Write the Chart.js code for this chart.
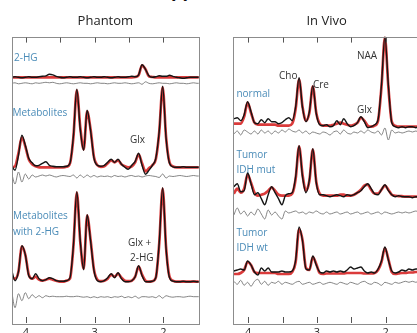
<!DOCTYPE html>
<html>
<head>
<meta charset="utf-8">
<script src="https://cdn.jsdelivr.net/npm/chart.js@4"></script>
<style>
  html, body { margin: 0; padding: 0; background: #fff; }
  body { width: 417px; height: 333px; overflow: hidden; position: relative; }
  canvas { position: absolute; top: 0; }
  #cut { position: absolute; left: 171px; top: -19px; font: bold 18px "Open Sans"; line-height: 18px; color: #111; }
</style>
</head>
<body>
<div id="cut">pp</div>
<canvas id="phantom" width="210" height="345" style="left:0px"></canvas>
<canvas id="invivo" width="210" height="345" style="left:221px"></canvas>
<script>
// chemical shift grid (ppm), shared by every spectrum
const ppm = [4.21, 4.16, 4.11, 4.06, 4.01, 3.96, 3.91, 3.86, 3.81, 3.76,
             3.71, 3.66, 3.61, 3.56, 3.51, 3.46, 3.41, 3.36, 3.31, 3.26,
             3.21, 3.16, 3.11, 3.06, 3.01, 2.96, 2.91, 2.86, 2.81, 2.76,
             2.71, 2.66, 2.61, 2.56, 2.51, 2.46, 2.41, 2.36, 2.31, 2.26,
             2.21, 2.16, 2.11, 2.06, 2.01, 1.96, 1.91, 1.86, 1.81, 1.76,
             1.71, 1.66, 1.61, 1.56, 1.51, 1.46];
const tickPpm = [4, 3.5, 3, 2.5, 2];
const tickLabels = ["4", "3", "2"];

// Phantom: 2-HG
const hgData = [0, 0.5, 0, -0.5, 0, 0.5, 0, 0, 0.5, 1,
                1.5, 3, 2.5, 1, 0, -0.5, 0, 0.5, 0, 0,
                0.5, 0, -0.5, 0, 0.5, 0, 0, 0.5, 0, -0.5,
                0, 0.5, 0, 0, 0.5, 1, 0.5, 2.5, 12.5, 8,
                1.5, 0, 0.5, 1.5, 1, 1, 2, 1, 0, -0.5,
                -1, -0.5, 0, 0, 0, 0];
const hgFit = [0, 0, 0, 0, 0, 0, 0, 0, 0, 0,
               0, 0, 0, 0, 0, 0, 0, 0, 0, 0,
               0, 0, 0, 0, 0, 0, 0, 0, 0, 0,
               0, 0, 0, 0, 0, 0, 0.3, 2, 12, 8,
               1, 0.3, 0, 0, 0, 0, 0, 0, 0, 0,
               0, 0, 0, 0, 0, 0];
const hgResid = [0, 0.5, -0.5, 0, 0.5, 0, -0.5, 0.5, 0, 0.5,
                 1, 0.5, 1, 0, -0.5, 0, 0.5, 0, -0.5, 0,
                 0.5, 0, 0, -0.5, 0, 0.5, 0, 0, -0.5, 0,
                 0.5, 0, 0, 0.5, 0, -0.5, 0, 0.5, -1, 1.5,
                 0, -0.5, 0, 0.5, 0, 0, -0.5, 0, 0.5, 0,
                 0, -0.5, 0, 0.5, 0, 0];

// Phantom: Metabolites
const metData = [2, -3, 12, 32, 22, 9, 4.5, 1.5, 2, 4,
                 5.5, 2, 1, 0.5, 0.5, 0.5, 1, 4, 31, 78,
                 38, 17, 57, 37, 9, 2, 1, 2, 5, 8,
                 5, 8, 3, 0, -2, 2, 6, 14, 2, -7,
                 -3, 2, 9, 36, 81, 29, 4, 0.5, 0, 0,
                 0.5, 0, 0, 0, 0, 0];
const metFit = [0, 1, 14, 30, 21, 8, 3, 1, 0, 0,
                0, 0, 0, 0, 0, 0, 0.5, 4, 30, 77,
                40, 18, 56, 38, 10, 2, 0.5, 1, 4, 7,
                5, 7, 3, 1, 0, 1, 5, 13, 4, -4,
                -1, 2, 8, 35, 80, 30, 5, 1, 0, 0,
                0, 0, 0, 0, 0, 0];
const metResid = [3, -8, 4, -6, 2, -3, 1, -1, 0, 1,
                  0, 1, 0, -1, 0, 0.5, 0, -0.5, 1, -2,
                  1, -1.5, 1, -1, 0.5, -1, 0, -0.5, 0, -1,
                  0.5, -0.5, 0, -1, 0, 0.5, -0.5, 0, -1, 0,
                  0.5, 0, -0.5, -1.5, 2, -2, 0, -0.5, 0, 0.5,
                  0, -0.5, 0, 0.5, 0, 0];

// Phantom: Metabolites with 2-HG
const met2hgData = [12, 1, 10, 36, 27, 6, 3, 8, 3, 1,
                    2, 4, 3, 1, 0.5, 0.5, 1, 4, 36, 90,
                    41, 12, 67, 41, 11, 1, 0, 1, 4, 8,
                    4, 9, 3, 0, 0, 1, 5, 16, 6, 0,
                    0, 0.5, 4, 39, 94, 33, 4, 0.5, 0, 0,
                    0.5, 0, 0, 0.5, 0, 0];
const met2hgFit = [4, 3, 10, 35, 27, 7, 3, 5, 2, 1,
                   2, 3, 2, 1, 0, 0, 1, 3, 35, 89,
                   40, 13, 66, 42, 12, 2, 0.5, 1, 3, 7,
                   5, 8, 4, 1, 0.5, 1, 5, 15, 7, 1,
                   0, 0.5, 4, 38, 93, 34, 5, 1, 0, 0,
                   0, 0, 0, 0, 0, 0];
const met2hgResid = [6, -11, 3, -4, 4, -2, 2, -1, 1, -1,
                     1, 0, 0.5, 0, 0, 0, 0.5, 0, 0, 0.5,
                     0, -0.5, 0, -1, 0, -1, 0, -0.5, 0, -1,
                     0, -0.5, 0.5, -1, 0, -1, 0.5, -1.5, 0, 0,
                     -0.5, 0, -1, 1, -1.5, 1, 0, -0.5, 0, 0,
                     -0.5, 0, 0.5, 0, 0, 0];

// In vivo: normal
const normalData = [8, 9, 6, 12, 25, 15, 4, 3, 7, 4,
                    8, 5, 5, 3, 4, 7, 9, 6, 20, 49,
                    19, 5, 15, 41, 13, 2, 1, 2, 0, 1,
                    6, 2, 8, 3, 0, 1, 4, 10, 5, -1,
                    0, 2, 7, 42, 90, 42, 4, 0, -1, 0,
                    -1, 0, 0, -1, 0, 0];
const normalFit = [3, 3, 3, 10, 24, 14, 4, 2, 2, 2,
                   2, 2, 2, 1, 1, 1, 1, 3, 18, 47,
                   20, 6, 14, 40, 14, 3, 1, 1, 1, 2,
                   3, 4, 3, 2, 1, 2, 4, 9, 6, 1,
                   0, 1, 6, 40, 89, 40, 5, 1, 0, 0,
                   0, 0, 0, 0, 0, 0];
const normalResid = [-2, 1, -3, 2, 0, -2, 1, -2, 2, -1,
                     1, -2, 1, -1, 2, 0, 3, 1, 0, 2,
                     -1, 1, -2, 0, -1, -2, 0, -1, -3, 0,
                     1, -2, 2, -1, -2, 0, -1, 1, -1, 2,
                     0, -1, 1, -3, 4, -8, 2, -1, 0, -1,
                     0, 1, 0, 1, 0, 0];

// In vivo: tumor IDH mut
const mutData = [10, 13, 5, 6, 24, 13, 2, 4, -2, -8,
                 2, 10, 4, -2, -8, 1, 3, 4, 20, 51,
                 20, 4, 17, 48, 14, 2, 2, 1, 0, 1,
                 2, 1, 0, 2, 1, 2, 4, 6, 10, 13,
                 8, 3, 2, 7, 12, 6, 2, 0, 1, 0,
                 0, 0, -1, 0, 0, 0];
const mutFit = [3, 8, 4, 8, 22, 14, 4, 1, 2, 3,
                6, 9, 6, 2, 1, 1, 1, 3, 18, 50,
                22, 6, 16, 47, 15, 3, 1, 1, 1, 1,
                1, 2, 2, 1, 1, 2, 4, 7, 11, 12,
                7, 3, 3, 7, 11, 7, 2, 1, 0.5, 0.5,
                0, 0, 0, 0, 0, 0];
const mutResid = [-2, 5, -1, 2, -3, 1, -2, 4, -1, -6,
                  3, -2, 1, -3, -6, 2, 0, 1, 2, 0,
                  1, -1, 1, 0, 2, 0, -1, 1, -1, 0,
                  1, -1, 0, 1, -1, 0, 1, -1, 0, 1,
                  -1, 0, 1, -1, 1, 0, -1, 0, 1, 0,
                  1, 0, 1, 2, 1, 0];

// In vivo: tumor IDH wt
const wtData = [3, 4, 5, 4, 13, 9, 2, -1, 6, 3,
                6, 2, 2, 2, 3, 2, 2, 3, 14, 47,
                33, 5, 4, 18, 9, 2, 1, 3, 2, 3,
                2, 3, 2, 4, 7, 5, 6, 7, 3, 1,
                2, 1, 5, 13, 27, 14, 3, 1, 2, 4,
                3, 5, 4, 5, 5, 5];
const wtFit = [0, 0, 1, 4, 12, 9, 2, 1, 1, 1,
               1, 1, 1, 0, 0, 0, 0, 2, 12, 45,
               34, 6, 4, 17, 10, 1, 0, 0.5, 0.5, 0.5,
               0.5, 0.5, 0.5, 1, 1, 1, 1, 1, 0.5, 0.5,
               0.5, 1, 4, 12, 26, 15, 2, 0, 0.5, 1,
               1, 1.5, 1.5, 2, 2, 2];
const wtResid = [2, -1, 3, -2, 1, -3, 2, 4, -1, 2,
                 -2, 1, 0, 2, -1, 1, 0, -1, 1, 2,
                 -1, 0, 1, -1, 0, 1, -1, 0, 1, 0,
                 -1, 1, 0, -1, 1, 0, -1, 1, 2, 0,
                 -1, 1, 0, -2, 1, 0, -1, 1, 0, 1,
                 2, 1, 2, 1, 2, 1];

// vertical stacking of the traces (y units of the plot)
const phantomBase = [246.7, 156.7, 42.3];
const phantomResidBase = [240.7, 148, 27.3];
const vivoBase = [197.3, 127.3, 50];
const vivoResidBase = [192, 111, 40.7];

const blue = "#4b8cb8";
const dark = "#333";

const phantomNotes = [
  { text: "2-HG", ppm: 4.175, y: 266, color: blue },
  { text: "Metabolites", ppm: 4.197, y: 211, color: blue },
  { text: "Glx", ppm: 2.486, y: 184, color: dark },
  { text: "Metabolites", ppm: 4.19, y: 107.5, color: blue },
  { text: "with 2-HG", ppm: 4.19, y: 92, color: blue },
  { text: "Glx +", ppm: 2.515, y: 81, color: dark },
  { text: "2-HG", ppm: 2.486, y: 66, color: dark }
];
const vivoNotes = [
  { text: "normal", ppm: 4.172, y: 230, color: blue },
  { text: "Cho", ppm: 3.553, y: 247.5, color: dark },
  { text: "Cre", ppm: 3.058, y: 239, color: dark },
  { text: "NAA", ppm: 2.418, y: 268, color: dark },
  { text: "Glx", ppm: 2.418, y: 214, color: dark },
  { text: "Tumor", ppm: 4.172, y: 169, color: blue },
  { text: "IDH mut", ppm: 4.172, y: 154, color: blue },
  { text: "Tumor", ppm: 4.172, y: 91, color: blue },
  { text: "IDH wt", ppm: 4.172, y: 76, color: blue }
];

function trace(vals, base) {
  return ppm.map((p, i) => ({ x: p, y: base + vals[i] }));
}

function group(data, fit, resid, base, residBase) {
  return [
    { data: trace(data, base), borderColor: "#151515", borderWidth: 1.4, order: 1 },
    { data: trace(fit, base), borderColor: "rgba(214,38,38,0.9)", borderWidth: 2.7, order: 2 },
    { data: trace(resid, residBase), borderColor: "#666", borderWidth: 0.8, order: 3 }
  ];
}

const frameTicks = {
  id: "frameTicks",
  afterDatasetsDraw(chart, args, opts) {
    const { ctx, chartArea: a, scales: { x, y } } = chart;
    ctx.save();
    ctx.strokeStyle = "#8c8c8c";
    ctx.lineWidth = 1;
    ctx.strokeRect(Math.round(a.left) + 0.5, Math.round(a.top) + 0.5,
                   Math.round(a.right - a.left), Math.round(a.bottom - a.top));
    ctx.strokeStyle = "#555";
    tickPpm.forEach(p => {
      const px = Math.round(x.getPixelForValue(p)) + 0.5;
      ctx.beginPath();
      ctx.moveTo(px, a.bottom - 1); ctx.lineTo(px, a.bottom - 7);
      ctx.moveTo(px, a.top + 1); ctx.lineTo(px, a.top + 6);
      ctx.stroke();
    });
    ctx.fillStyle = "#222";
    ctx.font = '11px "Open Sans"';
    ctx.textAlign = "center";
    ctx.textBaseline = "top";
    tickLabels.forEach(t => {
      ctx.fillText(t, x.getPixelForValue(Number(t)), a.bottom + 3);
    });
    ctx.font = '10px "Open Sans"';
    ctx.textAlign = "left";
    ctx.textBaseline = "middle";
    opts.notes.forEach(n => {
      ctx.fillStyle = n.color;
      ctx.fillText(n.text, x.getPixelForValue(n.ppm), y.getPixelForValue(n.y));
    });
    ctx.restore();
  }
};

function makeChart(id, title, datasets, notes, xmin, xmax, pad) {
  return new Chart(document.getElementById(id), {
    type: "line",
    data: { datasets: datasets },
    options: {
      responsive: false,
      animation: false,
      devicePixelRatio: 1,
      layout: { padding: pad },
      elements: { point: { radius: 0 }, line: { cubicInterpolationMode: "monotone" } },
      scales: {
        x: { type: "linear", reverse: true, min: xmin, max: xmax, display: false },
        y: { type: "linear", min: 0, max: 287.4, display: false }
      },
      plugins: {
        legend: { display: false },
        tooltip: { enabled: false },
        title: {
          display: true, text: title, color: "#222",
          font: { family: "Open Sans", size: 13, weight: "normal" },
          padding: { top: 13, bottom: 8 }
        },
        frameTicks: { notes: notes }
      }
    },
    plugins: [frameTicks]
  });
}

makeChart("phantom", "Phantom",
  [].concat(
    group(hgData, hgFit, hgResid, phantomBase[0], phantomResidBase[0]),
    group(metData, metFit, metResid, phantomBase[1], phantomResidBase[1]),
    group(met2hgData, met2hgFit, met2hgResid, phantomBase[2], phantomResidBase[2])
  ),
  phantomNotes, 1.485, 4.204, { left: 12, right: 11.3, top: 0, bottom: 21 });

makeChart("invivo", "In Vivo",
  [].concat(
    group(normalData, normalFit, normalResid, vivoBase[0], vivoResidBase[0]),
    group(mutData, mutFit, mutResid, vivoBase[1], vivoResidBase[1]),
    group(wtData, wtFit, wtResid, vivoBase[2], vivoResidBase[2])
  ),
  vivoNotes, 1.499, 4.218, { left: 12.3, right: 11, top: 0, bottom: 21 });
</script>
</body>
</html>
